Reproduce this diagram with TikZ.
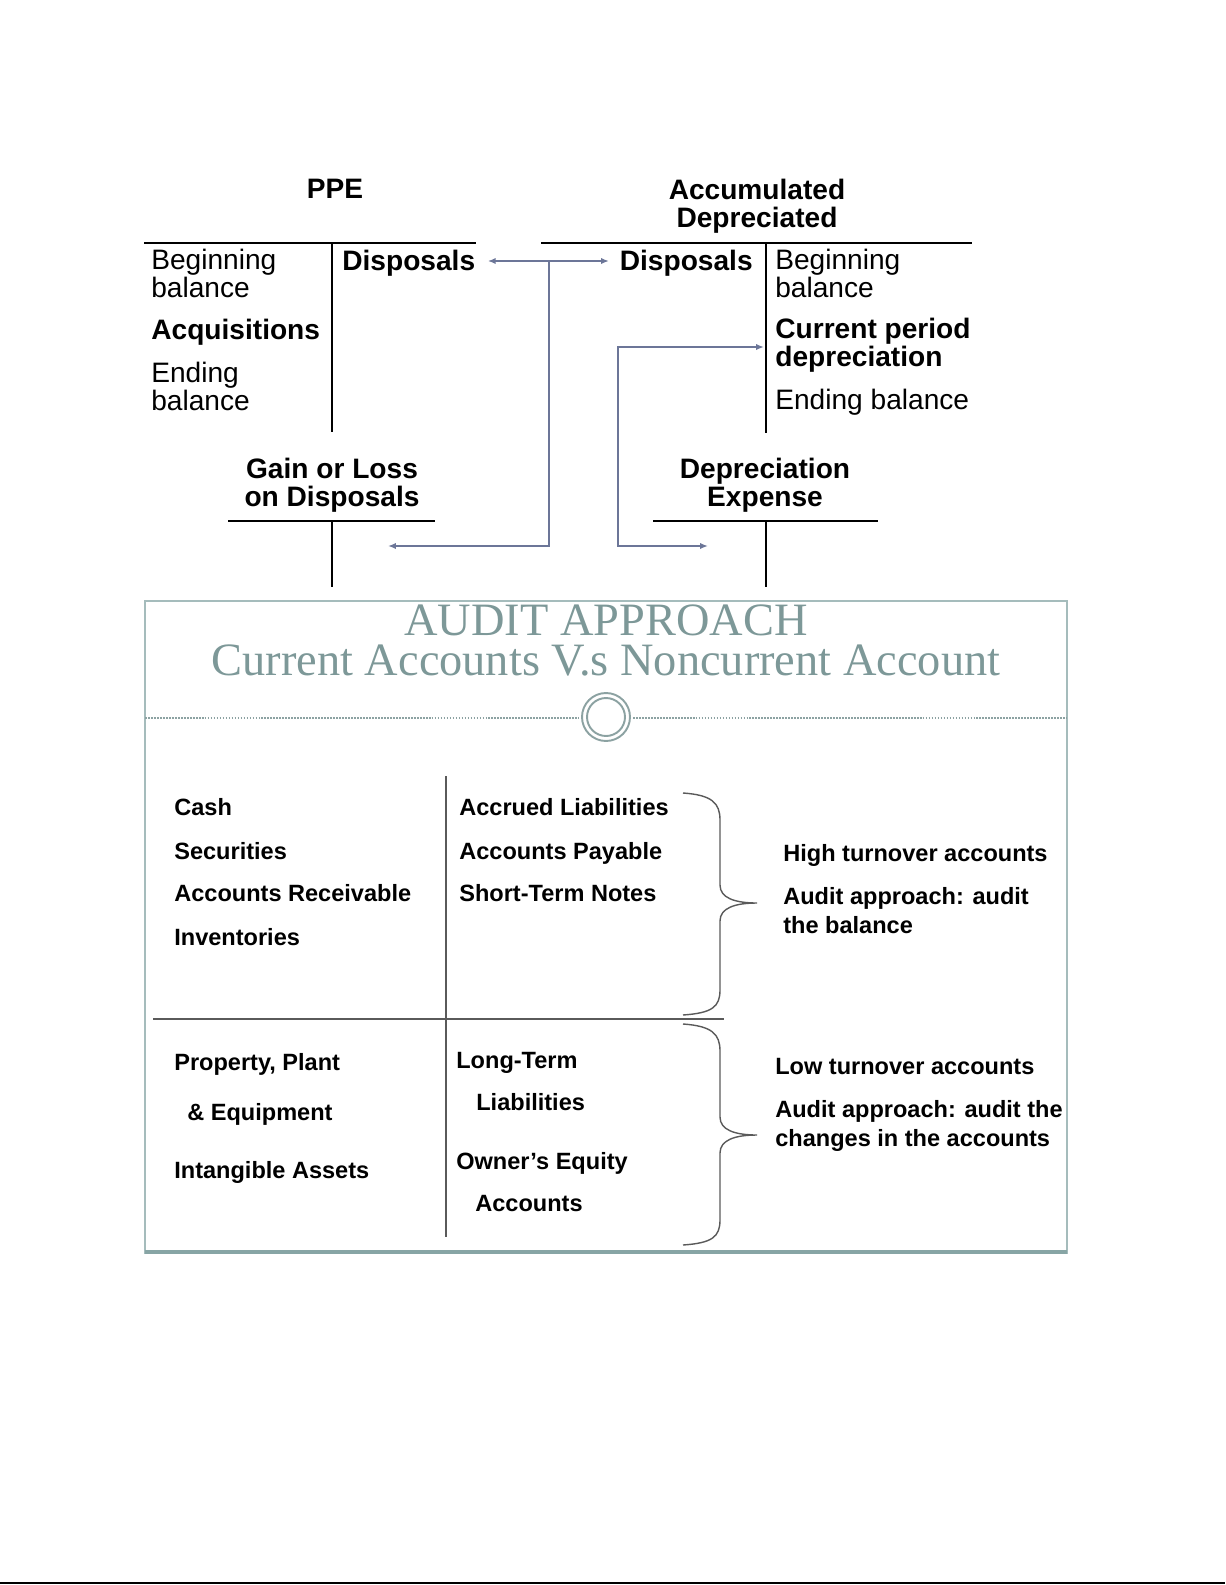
\documentclass[tikz,border=0pt]{standalone}
\usepackage{fontspec}
\setmainfont{Liberation Sans}
\newfontfamily\titlefont{Liberation Serif}
\usetikzlibrary{arrows.meta}
\definecolor{linkblue}{RGB}{108,118,152}
\definecolor{titleteal}{RGB}{125,152,152}
\definecolor{frameteal}{RGB}{165,188,188}
\definecolor{bandteal}{RGB}{135,165,165}
\definecolor{ringteal}{RGB}{140,162,162}
\definecolor{rulegray}{RGB}{90,90,90}
\begin{document}
\begin{tikzpicture}[x=0.02cm, y=-0.02cm, >={Latex[length=4.5pt,width=3.6pt]}]
	\tikzstyle{big} = [inner sep=0, font=\fontsize{16}{15.5}\selectfont, align=left]
	\tikzstyle{head} = [big, font=\bfseries\fontsize{16}{15.5}\selectfont, align=center]
	\tikzstyle{small} = [inner sep=0, anchor=base west, font=\bfseries\fontsize{13.4}{16}\selectfont, align=left]
	\tikzstyle{tacc} = [line width=1.1pt]
	\tikzstyle{link} = [linkblue, line width=1.3pt]
	\useasboundingbox (0,0) rectangle (1225,1585);
	% T-accounts (base anchor = last line)
	\node[head, anchor=base](PPE) at (335,198) {PPE};
	\node[head, anchor=base](AD) at (757,227) {Accumulated\\Depreciated};
	\node[head, anchor=base](GL) at (332,506) {Gain or Loss\\on Disposals};
	\node[head, anchor=base](DE) at (765,506) {Depreciation\\Expense};
	\draw[tacc] (144,243) -- (476,243) (332,243) -- (332,432);
	\draw[tacc] (541,243) -- (972,243) (766,243) -- (766,433);
	\draw[tacc] (228,521) -- (435,521) (332,521) -- (332,587);
	\draw[tacc] (653,521) -- (878,521) (766,521) -- (766,587);
	\node[big, anchor=base west](P1) at (151,297) {Beginning\\balance};
	\node[big, anchor=base west, font=\bfseries\fontsize{16}{15.5}\selectfont](P2) at (151,339) {Acquisitions};
	\node[big, anchor=base west](P3) at (151,410) {Ending\\balance};
	\node[big, anchor=base west, font=\bfseries\fontsize{16}{15.5}\selectfont](P4) at (342,270) {Disposals};
	\node[big, anchor=base east, font=\bfseries\fontsize{16}{15.5}\selectfont](A1) at (753,270) {Disposals};
	\node[big, anchor=base west](A2) at (775,297) {Beginning\\balance};
	\node[big, anchor=base west, font=\bfseries\fontsize{16}{15.5}\selectfont](A3) at (775,366) {Current period\\depreciation};
	\node[big, anchor=base west](A4) at (775,409) {Ending balance};
	% links
	\coordinate (J) at (549,261);
	\coordinate (GLin) at (388,546);
	\coordinate (DEin) at (708,546);
	\coordinate (A3in) at (764,347);
	\draw[link, <->] ([xshift=7pt]P4.east |- J) -- ([xshift=-6pt]A1.west |- J);
	\draw[link, ->] (J) |- (GLin);
	\draw[link, <->] (A3in) -| (618,546) -- (DEin);
	% audit approach slide
	\draw[frameteal, line width=0.6pt] (145,601) rectangle (1067,1253);
	\draw[bandteal, line width=2.2pt] (145,1252) -- (1067,1252);
	\node[inner sep=0, anchor=base, text=titleteal, font=\titlefont\fontsize{26.4}{22.7}\selectfont, align=center](T) at (606,675) {AUDIT APPROACH\\Current Accounts V.s Noncurrent Account};
	\draw[ringteal, dash pattern=on 1pt off 0.7pt, line width=0.6pt] (145,718) -- (579,718) (633,718) -- (1067,718);
	\draw[ringteal, line width=1.1pt] (606,717) circle (0.48cm) circle (0.38cm);
	\draw[rulegray, line width=0.7pt] (446,776) -- (446,1237) (153,1019) -- (724,1019);
	\node[small](C1) at (174,815) {Cash};
	\node[small](C2) at (174,859) {Securities};
	\node[small](C3) at (174,901) {Accounts Receivable};
	\node[small](C4) at (174,945) {Inventories};
	\node[small](L1) at (459,815) {Accrued Liabilities};
	\node[small](L2) at (459,859) {Accounts Payable};
	\node[small](L3) at (459,901) {Short-Term Notes};
	\node[small](H1) at (783,861) {High turnover accounts};
	\node[small](H2) at (783,933) {Audit approach: audit\\the balance};
	\node[small](N1) at (174,1070) {Property, Plant};
	\node[small](N2) at (187,1120) {\& Equipment};
	\node[small](N3) at (174,1178) {Intangible Assets};
	\node[small](M1) at (456,1068) {Long-Term};
	\node[small](M2) at (476,1110) {Liabilities};
	\node[small](M3) at (456,1169) {Owner’s Equity};
	\node[small](M4) at (475,1211) {Accounts};
	\node[small](W1) at (775,1074) {Low turnover accounts};
	\node[small](W2) at (775,1146) {Audit approach: audit the\\changes in the accounts};
	% braces
	\draw[rulegray, line width=0.8pt] (683,793) .. controls (712,795) and (720,803) .. (720,820) -- (720,885)
		.. controls (720,898) and (735,903) .. (757,903) .. controls (735,903) and (720,908) .. (720,921)
		-- (720,990) .. controls (720,1007) and (712,1013) .. (683,1015);
	\draw[rulegray, line width=0.8pt] (683,1024) .. controls (712,1026) and (720,1034) .. (720,1051) -- (720,1117)
		.. controls (720,1130) and (735,1135) .. (757,1135) .. controls (735,1135) and (720,1140) .. (720,1153)
		-- (720,1220) .. controls (720,1237) and (712,1243) .. (683,1245);
	\draw[line width=1.2pt] (0,1583) -- (1225,1583);
\end{tikzpicture}
\end{document}
